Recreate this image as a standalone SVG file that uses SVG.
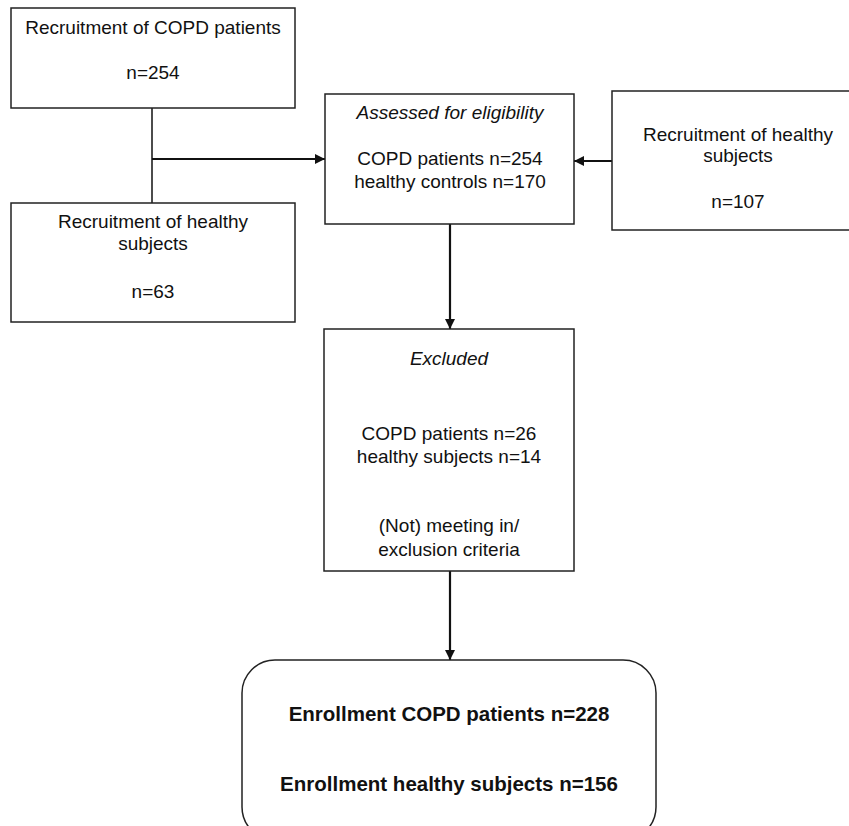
<svg xmlns="http://www.w3.org/2000/svg" width="849" height="826" viewBox="0 0 849 826">
<defs>
<style>
.box{fill:#fff;stroke:#222;stroke-width:1.5}
.t{font-family:"Liberation Sans",Arial,sans-serif;font-size:19px;fill:#111;text-anchor:middle}
.i{font-style:italic}
.b{font-weight:bold;font-size:20.5px}
.ln{stroke:#111;stroke-width:1.5;fill:none}
.ar{stroke:#111;stroke-width:2.2;fill:none}
</style>
<marker id="ah" viewBox="0 0 10 10" refX="10" refY="5" markerWidth="10" markerHeight="10" markerUnits="userSpaceOnUse" orient="auto">
<path d="M0,0 L10,5 L0,10 z" fill="#111"/>
</marker>
</defs>
<rect width="849" height="826" fill="#fff"/>
<g id="connectors">
<line class="ln" x1="152" y1="108" x2="152" y2="203"/>
<line class="ar" x1="152" y1="159" x2="325" y2="159" marker-end="url(#ah)"/>
<line class="ar" x1="612" y1="161" x2="574" y2="161" marker-end="url(#ah)"/>
<line class="ar" x1="450" y1="224" x2="450" y2="329" marker-end="url(#ah)"/>
<line class="ar" x1="450" y1="571" x2="450" y2="660" marker-end="url(#ah)"/>
</g>
<g id="recruit-copd">
<rect class="box" x="11" y="8" width="284" height="100"/>
<text class="t" x="153" y="34">Recruitment of COPD patients</text>
<text class="t" x="153" y="79">n=254</text>
</g>
<g id="recruit-healthy-left">
<rect class="box" x="11" y="203" width="284" height="119"/>
<text class="t" x="153" y="228">Recruitment of healthy</text>
<text class="t" x="153" y="250">subjects</text>
<text class="t" x="153" y="298">n=63</text>
</g>
<g id="assessed">
<rect class="box" x="325" y="94" width="249" height="130"/>
<text class="t i" x="450" y="119">Assessed for eligibility</text>
<text class="t" x="450" y="165">COPD patients n=254</text>
<text class="t" x="450" y="188">healthy controls n=170</text>
</g>
<g id="recruit-healthy-right">
<rect class="box" x="612" y="91" width="252" height="139"/>
<text class="t" x="738" y="141">Recruitment of healthy</text>
<text class="t" x="738" y="162">subjects</text>
<text class="t" x="738" y="208">n=107</text>
</g>
<g id="excluded">
<rect class="box" x="324" y="329" width="250" height="242"/>
<text class="t i" x="449" y="365">Excluded</text>
<text class="t" x="449" y="440">COPD patients n=26</text>
<text class="t" x="449" y="463">healthy subjects n=14</text>
<text class="t" x="449" y="532">(Not) meeting in/</text>
<text class="t" x="449" y="556">exclusion criteria</text>
</g>
<g id="enrollment">
<rect class="box" x="242" y="660" width="414" height="180" rx="33" ry="33"/>
<text class="t b" x="449" y="721">Enrollment COPD patients n=228</text>
<text class="t b" x="449" y="791">Enrollment healthy subjects n=156</text>
</g>
</svg>
